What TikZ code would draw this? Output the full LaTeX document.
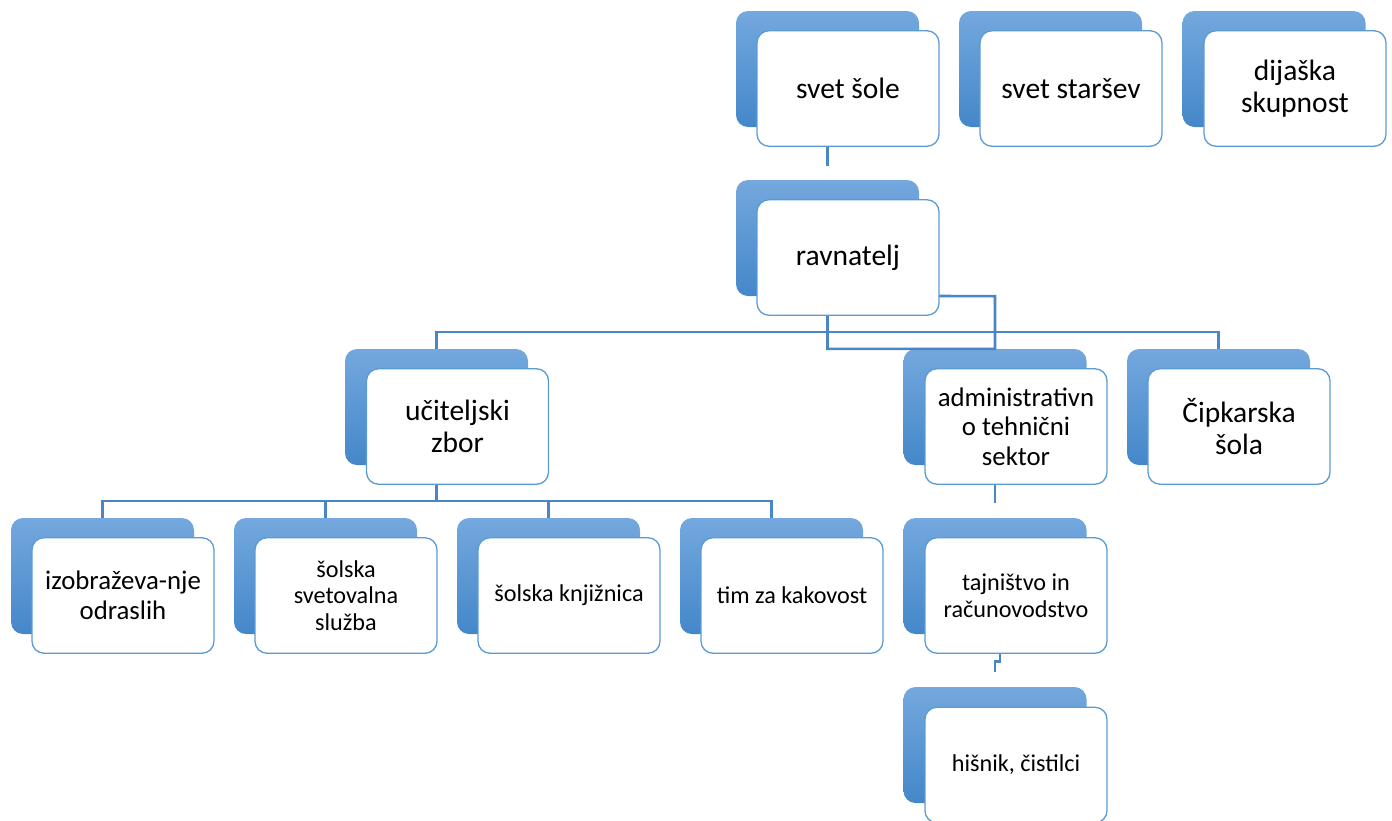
\documentclass[tikz,border=0pt]{standalone}
\usepackage{fontspec}
\setmainfont{Carlito}
\definecolor{gtop}{RGB}{116,168,222}
\definecolor{gbot}{RGB}{68,135,201}
\definecolor{fborder}{RGB}{91,155,213}
\definecolor{conn}{RGB}{74,134,197}
\tikzset{
  backbox/.style={rectangle, rounded corners=12pt, minimum width=183pt, minimum height=116pt, top color=gtop, bottom color=gbot, draw=none, inner sep=0pt},
  frontbox/.style={rectangle, rounded corners=12pt, minimum width=182pt, minimum height=115.5pt, fill=white, draw=fborder, line width=1.3pt, align=center, inner sep=2pt, text=black},
  big/.style={font=\fontsize{29.5}{32.5}\selectfont},
  mid/.style={font=\fontsize{26.8}{29.5}\selectfont},
  small/.style={font=\fontsize{24.2}{26.8}\selectfont},
  link/.style={draw=conn, line width=2.6pt}
}
\begin{document}
\begin{tikzpicture}[x=1pt,y=-1pt]
\useasboundingbox (0,0) rectangle (1392,820);
% back boxes
\node[backbox] (svetsoleb) at (827.5,69) {};
\node[backbox] (starsevb) at (1050.5,69) {};
\node[backbox] (dijaskab) at (1274,69) {};
\node[backbox] (ravnateljb) at (827.5,238) {};
\node[backbox] (ucitelb) at (436.5,407) {};
\node[backbox] (adminb) at (995,407) {};
\node[backbox] (cipkb) at (1218.5,407) {};
\node[backbox] (izobb) at (102.5,576) {};
\node[backbox] (svetovb) at (325.5,576) {};
\node[backbox] (knjizb) at (548.5,576) {};
\node[backbox] (timb) at (771.5,576) {};
\node[backbox] (tajnb) at (995,576) {};
\node[backbox] (hisnikb) at (995,745) {};
% connectors
\draw[link] (svetsoleb.south |- 0,146) -- (svetsoleb.south |- 0,166);
\draw[link] (ravnateljb.south |- 0,316) -- (ravnateljb.south |- adminb.north) -- (adminb.north) -- (adminb.north |- ravnateljb.south) -- (939,296);
\draw[link] (ucitelb.north) -- (ucitelb.north |- 0,332) -- (cipkb.north |- 0,332) -- (cipkb.north);
\draw[link] (ucitelb.north |- 0,484) -- (ucitelb.north |- 0,501);
\draw[link] (izobb.north) -- (izobb.north |- 0,501) -- (timb.north |- 0,501) -- (timb.north);
\draw[link] (svetovb.north) -- (svetovb.north |- 0,501);
\draw[link] (knjizb.north) -- (knjizb.north |- 0,501);
\draw[link] (adminb.north |- 0,484) -- (adminb.north |- 0,503);
\draw[link] ([xshift=5pt]tajnb.south |- 0,653) -- ++(0,8.5) -- ++(-5,0) -- ++(0,10.5);
% front boxes
\node[frontbox,big] (svetsole) at (848,88.5) {svet šole};
\node[frontbox,big] (starsev) at (1071,88.5) {svet staršev};
\node[frontbox,big] (dijaska) at (1295,88.5) {dijaška\\skupnost};
\node[frontbox,big] (ravnatelj) at (848,257.5) {ravnatelj};
\node[frontbox,big] (ucitel) at (457.5,426.5) {učiteljski\\zbor};
\node[frontbox,mid] (admin) at (1016,426.5) {administrativn\\o tehnični\\sektor};
\node[frontbox,big] (cipk) at (1239,426.5) {Čipkarska\\šola};
\node[frontbox,mid] (izob) at (123,595.5) {izobraževa-nje\\odraslih};
\node[frontbox,small] (svetov) at (346,595.5) {šolska\\svetovalna\\služba};
\node[frontbox,small] (knjiz) at (569,595.5) {šolska knjižnica};
\node[frontbox,small] (tim) at (792,595.5) {tim za kakovost};
\node[frontbox,small] (tajn) at (1016,595.5) {tajništvo in\\računovodstvo};
\node[frontbox,small] (hisnik) at (1016,765) {hišnik, čistilci};
\end{tikzpicture}
\end{document}
